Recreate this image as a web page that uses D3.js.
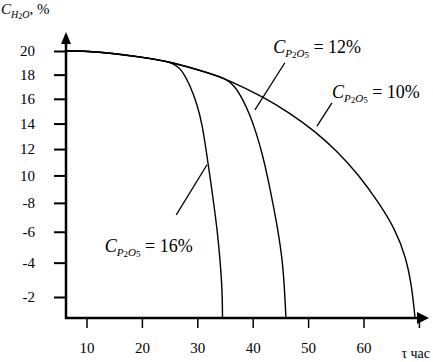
<!DOCTYPE html>
<html>
<head>
<meta charset="utf-8">
<script src="https://cdn.jsdelivr.net/npm/d3@7"></script>
<style>
  body { margin: 0; background: #fff; }
  text { font-family: "Liberation Serif", "DejaVu Serif", serif; fill: #000; }
</style>
</head>
<body>
<div id="chart"></div>
<script>
// Tick values and labels
const xTicks = [10, 20, 30, 40, 50, 60, 70];
const xTickLabels = ["10", "20", "30", "40", "50", "60", ""];
const yTicks = [20, 18, 16, 14, 12, 10, 8, 6, 4, 2];
const yTickLabels = ["20", "18", "16", "14", "12", "10", "-8", "-6", "-4", "-2"];

// Drying curves: time (h) vs moisture (%)
const tau10 = [6.3, 11.2, 19.7, 25.1, 32.3, 35.4, 41.9, 46.7, 51.2, 55.2, 59.0, 62.6, 65.7, 67.7, 68.75, 69.3];
const c10   = [20, 20, 19.5, 19.1, 18.1, 17.6, 16.15, 14.85, 13.4, 11.85, 10.1, 8.1, 6.2, 4.3, 2.5, 0.94];
const tau12 = [6.3, 11.2, 19.7, 25.1, 32.3, 35.0, 36.8, 38.25, 39.5, 40.6, 41.7, 42.8, 43.7, 44.6, 45.3, 45.7, 46.0];
const c12   = [20, 20, 19.5, 19.1, 18.1, 17.7, 17.05, 15.9, 14.7, 13.3, 11.7, 9.7, 7.85, 6.0, 4.3, 2.7, 0.94];
const tau16 = [6.3, 11.2, 19.7, 25.6, 27.2, 28.7, 30.0, 30.9, 31.6, 32.3, 33.0, 33.6, 34.1, 34.5, 34.55];
const c16   = [20, 20, 19.5, 19.07, 18.4, 17.1, 15.5, 13.9, 11.9, 9.9, 7.85, 6.1, 4.2, 2.4, 0.94];

// Annotations: label value, label anchor and leader line ends (data units)
const noteValues = ["12%", "10%", "16%"];
const noteAnchor = [[43.7, 19.84], [54.3, 16.07], [13.3, 4.67]];
const leaderFrom = [[40.4, 15.1], [51.6, 13.8], [31.75, 10.8]];
const leaderTo   = [[45.8, 19.0], [54.3, 15.66], [26.2, 7.15]];

const W = 433, H = 362;
const plotLeft = 66, plotBottom = 318, plotTop = 51;

const svg = d3.select('#chart')
  .append('svg')
  .attr('width', W)
  .attr('height', H);

// Scales
const x = d3.scaleLinear()
  .domain([6.3, 72])
  .range([plotLeft, 430]);

const y = d3.scalePow()
  .exponent(0.8)
  .domain([0.94, 20])
  .range([plotBottom, plotTop]);

// Axes
const yAxis = svg.append('g')
  .attr('transform', `translate(${plotLeft},0)`)
  .call(d3.axisLeft(y).tickValues(yTicks)
    .tickFormat((d, i) => yTickLabels[i])
    .tickSize(12).tickPadding(19));
yAxis.select('.domain').remove();
yAxis.selectAll('line').attr('stroke-width', 2);
yAxis.selectAll('text').attr('font-size', 15)
  .attr('font-family', '"Liberation Serif", serif');

const xAxis = svg.append('g')
  .attr('transform', `translate(0,${plotBottom})`)
  .call(d3.axisBottom(x).tickValues(xTicks)
    .tickFormat((d, i) => xTickLabels[i])
    .tickSize(10).tickPadding(14));
xAxis.select('.domain').remove();
xAxis.selectAll('line').attr('stroke-width', 1.5);
xAxis.selectAll('text').attr('font-size', 15)
  .attr('font-family', '"Liberation Serif", serif');

// Axis lines with arrows
svg.append('line')
  .attr('x1', plotLeft).attr('x2', plotLeft)
  .attr('y1', plotBottom + 1).attr('y2', 43)
  .attr('stroke', '#000').attr('stroke-width', 2.5);
svg.append('path')
  .attr('d', `M${plotLeft},32 L${plotLeft - 5},44 L${plotLeft + 5},44 Z`)
  .attr('fill', '#000');

svg.append('line')
  .attr('x1', plotLeft - 1).attr('x2', 418)
  .attr('y1', plotBottom).attr('y2', plotBottom)
  .attr('stroke', '#000').attr('stroke-width', 2.5);
svg.append('path')
  .attr('d', `M429,${plotBottom} L417,${plotBottom - 6} L417,${plotBottom + 6} Z`)
  .attr('fill', '#000');

// Axis titles
const yTitle = svg.append('text')
  .attr('x', 1).attr('y', 14)
  .attr('font-size', 15);
yTitle.append('tspan').attr('font-style', 'italic').text('C');
yTitle.append('tspan').attr('font-style', 'italic').attr('font-size', 10).attr('dy', 4).text('H');
yTitle.append('tspan').attr('font-size', 8).attr('dy', 1).text('2');
yTitle.append('tspan').attr('font-style', 'italic').attr('font-size', 10).attr('dy', -1).text('O');
yTitle.append('tspan').attr('dy', -4).text(', %');

svg.append('text')
  .attr('x', 430).attr('y', 358)
  .attr('text-anchor', 'end')
  .attr('font-size', 14)
  .text('τ час');

// Curves
const line = d3.line()
  .x(d => x(d[0]))
  .y(d => y(d[1]))
  .curve(d3.curveBasis);

[[tau10, c10], [tau12, c12], [tau16, c16]].forEach(([t, c]) => {
  svg.append('path')
    .datum(t.map((v, i) => [v, c[i]]))
    .attr('fill', 'none')
    .attr('stroke', '#000')
    .attr('stroke-width', 1.4)
    .attr('d', line);
});

// Leader lines and labels
noteValues.forEach((val, i) => {
  svg.append('line')
    .attr('x1', x(leaderFrom[i][0])).attr('y1', y(leaderFrom[i][1]))
    .attr('x2', x(leaderTo[i][0])).attr('y2', y(leaderTo[i][1]))
    .attr('stroke', '#000').attr('stroke-width', 1.3);

  const t = svg.append('text')
    .attr('x', x(noteAnchor[i][0]))
    .attr('y', y(noteAnchor[i][1]))
    .attr('font-size', 18);
  t.append('tspan').attr('font-style', 'italic').text('C');
  t.append('tspan').attr('font-style', 'italic').attr('font-size', 11).attr('dy', 4).text('P');
  t.append('tspan').attr('font-size', 9).attr('dy', 1).text('2');
  t.append('tspan').attr('font-style', 'italic').attr('font-size', 11).attr('dy', -1).text('O');
  t.append('tspan').attr('font-size', 9).attr('dy', 1).text('5');
  t.append('tspan').attr('dy', -5).text(' = ' + val);
});
</script>
</body>
</html>
